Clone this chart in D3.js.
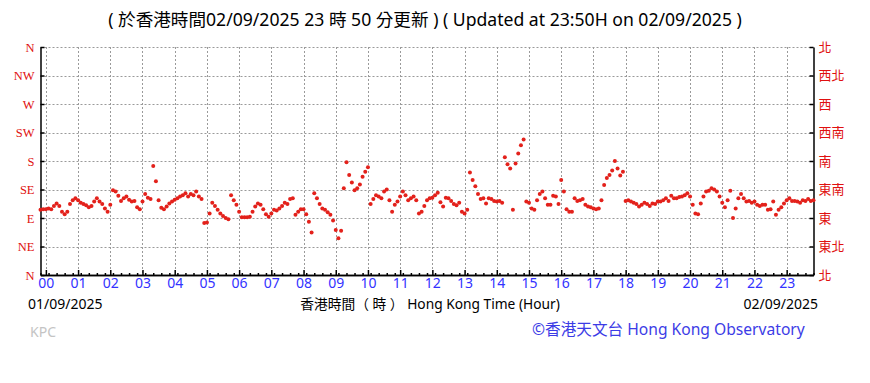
<!DOCTYPE html>
<html><head><meta charset="utf-8">
<script src="https://cdn.jsdelivr.net/npm/d3@7"></script>
<style>body{margin:0;background:#fff}</style>
</head><body>
<svg id="c" width="870" height="383" xmlns="http://www.w3.org/2000/svg"></svg>
<script>
// ---------- data ----------
const titleText = "( 於香港時間02/09/2025 23 時 50 分更新 ) ( Updated at 23:50H on 02/09/2025 )";
const startDate = "01/09/2025";
const endDate = "02/09/2025";
const xAxisTitle = "香港時間（ 時 ） Hong Kong Time (Hour)";
const stationCode = "KPC";
const credit = "©香港天文台 Hong Kong Observatory";
const hourLabels = ["00","01","02","03","04","05","06","07","08","09","10","11","12","13","14","15","16","17","18","19","20","21","22","23"];
const dirDegrees = [0,45,90,135,180,225,270,315,360];
const dirLabelsEn = ["N","NE","E","SE","S","SW","W","NW","N"];
const dirLabelsZh = ["北","東北","東","東南","南","西南","西","西北","北"];
// wind direction (degrees) every 5 minutes, first reading at 23:50 of previous day (-10 min)
const firstMinute = -10, stepMinutes = 5;
const windDir = [
 103,104,
 104,105,104,109,113,109,100, 96,100,112,118,121, // 00
 118,114,112,110,107,109,116,121,116,112,105,100, // 01
 111,134,132,125,117,121,124,119,116,117,107,104, // 02
 116,128,122,120,172,148,118,106,104,108,113,116, // 03
 119,121,124,126,129,124,128,126,132,124,120, 82, // 04
  83, 97,114,109,103, 97, 93, 90, 88,126,118,111, // 05
 100, 91, 91, 91, 92,100,108,113,111,104, 96, 92, // 06
  97,103,102,105,109,114,112,120,121, 95,100,104, // 07
 104, 96, 84, 67,129,121,112,105,103, 99, 95, 86, // 08
  71, 58, 70,137,178,158,146,134,137,143,155,163, // 09
 170,112,120,126,124,121,132,135,118,100,111,116, // 10
 124,132,126,118,121,124,118, 97,100,109,118,121, // 11
 122,126,130,115,108,122,121,117,112,110,114,100, // 12
  97,103,162,150,140,128,120,121,113,121,120,117, // 13
 116,117,114,186,175,168,103,176,192,205,214,116, // 14
 114,105,103,118,128,132,121,111,111,125,124,112, // 15
 150,132,104,100,100,121,117,118,120,111,108,107, // 16
 105,104,105,118,142,153,158,165,180,168,157,163, // 17
 117,118,116,114,112,108,111,114,112,109,113,112, // 18
 116,116,118,121,117,125,121,121,123,124,126,129, // 19
 124,111, 97, 96,113,124,132,133,137,135,132,124, // 20
 114,107,118,133, 90,105,121,128,121,116,117,114, // 21
 116,111,109,111,111,103,104,116, 95,103,107,113, // 22
 118,121,117,117,116,114,118,117,120,117,118       // 23
];
const points = windDir.map((d,i)=>({t:firstMinute+i*stepMinutes, d}));

// ---------- layout ----------
const svg = d3.select("#c");
const L = 40.5, R = 813.5, T = 47, B = 275;
const x = d3.scaleLinear().domain([-10, 1430]).range([L, R]);
const y = d3.scaleLinear().domain([0, 360]).range([B, T]);
const hourMinutes = hourLabels.map((h,i)=>i*60);
const fontLatin = "'Noto Sans','Noto Sans CJK TC',sans-serif";

// grid
const grid = svg.append("g").attr("stroke","#9a9a9a").attr("stroke-dasharray","2,2").attr("stroke-width",1);
grid.selectAll("line.v").data(hourMinutes).join("line")
  .attr("x1",d=>Math.round(x(d))+0.5).attr("x2",d=>Math.round(x(d))+0.5)
  .attr("y1",T).attr("y2",B);
grid.selectAll("line.h").data(dirDegrees.slice(1)).join("line")
  .attr("x1",L).attr("x2",R)
  .attr("y1",d=>Math.round(y(d))+0.5).attr("y2",d=>Math.round(y(d))+0.5);

// axes
function styleAxis(g){ g.select(".domain").attr("stroke","#000").attr("stroke-width",1.5); g.selectAll(".tick line").attr("stroke","#000").attr("stroke-width",1.5); }
const yl = svg.append("g").attr("transform",`translate(${L},0)`)
  .call(d3.axisLeft(y).tickValues(dirDegrees).tickSizeInner(-4).tickSizeOuter(0).tickPadding(6)
  .tickFormat((d,i)=>dirLabelsEn[i]));
styleAxis(yl);
yl.selectAll("text").attr("fill","#e01010").attr("font-family","'Liberation Serif',serif").attr("font-size",12.5);
const yr = svg.append("g").attr("transform",`translate(${R},0)`)
  .call(d3.axisRight(y).tickValues(dirDegrees).tickSizeInner(-4).tickSizeOuter(0).tickPadding(5)
  .tickFormat((d,i)=>dirLabelsZh[i]));
styleAxis(yr);
yr.selectAll("text").attr("fill","#e01010").attr("font-family","'Noto Sans CJK TC',sans-serif").attr("font-size",13);

// bottom minor ticks
const minor = d3.range(-10, 1431, 15).filter(m=>m%60!==0);
const xm = svg.append("g").attr("transform",`translate(0,${B})`)
  .call(d3.axisBottom(x).tickValues(minor).tickSizeInner(-2).tickSizeOuter(0).tickFormat(""));
styleAxis(xm);
const xb = svg.append("g").attr("transform",`translate(0,${B})`)
  .call(d3.axisBottom(x).tickValues(hourMinutes).tickSizeInner(-5).tickSizeOuter(0).tickPadding(4)
  .tickFormat((d,i)=>hourLabels[i]));
styleAxis(xb);
xb.selectAll("text").attr("fill","#3333ff").attr("font-family",fontLatin).attr("font-size",14).attr("dy","0.62em");

// data
svg.append("g").attr("fill","#e3211b").selectAll("circle").data(points.filter(p=>p.d!=null)).join("circle")
  .attr("cx",p=>x(p.t)).attr("cy",p=>y(p.d)).attr("r",2);

// texts
function fitText(sel, width){
  const w = sel.node().getComputedTextLength();
  const fs = parseFloat(sel.attr("font-size"));
  sel.attr("font-size", fs*width/w);
}
const title = svg.append("text").attr("x",425).attr("y",26).attr("text-anchor","middle")
  .attr("font-family",fontLatin).attr("font-size",15).attr("fill","#000").text(titleText);
fitText(title, 634);
svg.append("text").attr("x",28).attr("y",309).attr("font-family",fontLatin).attr("font-size",14).attr("fill","#000").text(startDate);
svg.append("text").attr("x",818).attr("y",309).attr("text-anchor","end").attr("font-family",fontLatin).attr("font-size",14).attr("fill","#000").text(endDate);
const xt = svg.append("text").attr("x",430).attr("y",309).attr("text-anchor","middle").attr("font-family",fontLatin).attr("font-size",14).attr("fill","#000").text(xAxisTitle);
fitText(xt, 260);
svg.append("text").attr("x",30).attr("y",337).attr("font-family",fontLatin).attr("font-size",14).attr("fill","#c4c4c4").text(stationCode);
const cr = svg.append("text").attr("x",532).attr("y",335).attr("font-family",fontLatin).attr("font-size",15).attr("fill","#3c3ce6").text(credit);
fitText(cr, 273);
</script>
</body></html>
